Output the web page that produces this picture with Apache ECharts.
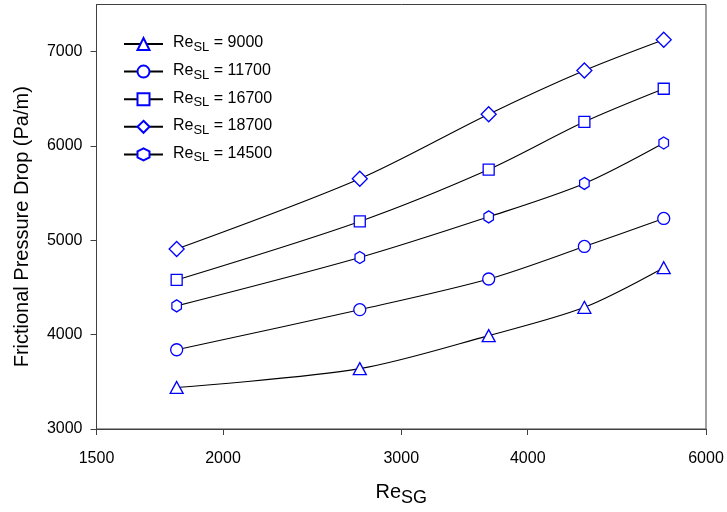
<!DOCTYPE html>
<html>
<head>
<meta charset="utf-8">
<script src="https://cdn.jsdelivr.net/npm/echarts@6/dist/echarts.min.js"></script>
<style>
	html, body { margin: 0; padding: 0; background: #fff; }
	#chart { width: 727px; height: 512px; }
</style>
</head>
<body>
<div id="chart"></div>
<script>
// Re_SG values (x axis is logarithmic)
var reSG = [1800, 2730, 3660, 4550, 5450];
var xTicks = [1500, 2000, 3000, 4000, 6000];
var yTicks = [3000, 4000, 5000, 6000, 7000];

// frictional pressure drop, Pa/m
var re9000 = [3440, 3640, 3990, 4290, 4710];
var re11700 = [3840, 4265, 4590, 4935, 5232];
var re16700 = [4580, 5200, 5750, 6256, 6607];
var re18700 = [4908, 5653, 6337, 6800, 7126];
var re14500 = [4305, 4818, 5249, 5603, 6032];

var seriesNames = ['9000', '11700', '16700', '18700', '14500'];

var FONT = '"Liberation Sans", Arial, sans-serif';
var HEX = 'path://M0,-1 L0.866,-0.5 L0.866,0.5 L0,1 L-0.866,0.5 L-0.866,-0.5 Z';

function lg(v) { return Math.log(v) / Math.LN10; }

function pairs(ys) {
	var out = [];
	for (var i = 0; i < reSG.length; i++) {
		out.push([lg(reSG[i]), ys[i]]);
	}
	return out;
}

function makeSeries(name, ys, symbol, size) {
	return {
		name : name,
		type : 'line',
		smooth : 0.3,
		data : pairs(ys),
		symbol : symbol,
		symbolSize : size,
		symbolKeepAspect : true,
		showAllSymbol : true,
		lineStyle : { color : '#000', width : 1.1 },
		itemStyle : { color : '#fff', borderColor : '#0000ff', borderWidth : 1.3 },
		emphasis : { disabled : true }
	};
}

var myChart = echarts.init(document.getElementById('chart'));
var option = {
	animation : false,
	textStyle : { fontFamily : FONT },
	grid : {
		left : 96.5,
		right : 21,
		top : 4.5,
		bottom : 81,
		show : true,
		borderColor : '#404040',
		borderWidth : 1
	},
	legend : {
		orient : 'vertical',
		left : 123,
		top : 35,
		padding : 0,
		itemWidth : 39,
		itemHeight : 15,
		itemGap : 8.6,
		data : seriesNames,
		formatter : function(n) {
			return '{a|Re}{b|SL}{a| = ' + n + '}';
		},
		textStyle : {
			padding : [0, 0, 0, 5],
			rich : {
				a : { fontFamily : FONT, fontSize : 16, color : '#000', lineHeight : 18, verticalAlign : 'top' },
				b : { fontFamily : FONT, fontSize : 13, color : '#000', lineHeight : 18, verticalAlign : 'top', padding : [6, 0, 0, 0] }
			}
		}
	},
	xAxis : {
		type : 'value',
		min : lg(1500),
		max : lg(6000),
		name : '{a|Re}{b|SG}',
		nameLocation : 'middle',
		nameGap : 53,
		nameTextStyle : {
			rich : {
				a : { fontFamily : FONT, fontSize : 20, color : '#000', lineHeight : 24, verticalAlign : 'top' },
				b : { fontFamily : FONT, fontSize : 18, color : '#000', lineHeight : 24, verticalAlign : 'top', padding : [7, 0, 0, 0] }
			}
		},
		splitLine : { show : false },
		axisLine : { onZero : false, lineStyle : { color : '#404040', width : 1 } },
		axisTick : { show : true, length : 6, customValues : xTicks.map(lg), lineStyle : { color : '#404040' } },
		axisLabel : {
			customValues : xTicks.map(lg),
			margin : 22,
			fontSize : 16,
			color : '#000',
			fontFamily : FONT,
			formatter : function(v) { return String(Math.round(Math.pow(10, v))); }
		}
	},
	yAxis : {
		type : 'value',
		min : 3000,
		max : 7500,
		name : 'Frictional Pressure Drop (Pa/m)',
		nameLocation : 'middle',
		nameRotate : 90,
		nameGap : 64,
		nameTextStyle : { fontFamily : FONT, fontSize : 20, color : '#000', padding : [0, 20, 0, 0] },
		splitLine : { show : false },
		axisLine : { show : true, lineStyle : { color : '#404040', width : 1 } },
		axisTick : { show : true, length : 6, customValues : yTicks, lineStyle : { color : '#404040' } },
		axisLabel : {
			customValues : yTicks,
			margin : 14,
			fontSize : 16,
			color : '#000',
			fontFamily : FONT,
			padding : [6, 0, 0, 0],
			formatter : function(v) { return String(v); }
		}
	},
	series : [
		makeSeries('9000', re9000, 'triangle', [13, 12]),
		makeSeries('11700', re11700, 'circle', 12),
		makeSeries('16700', re16700, 'rect', 11),
		makeSeries('18700', re18700, 'diamond', 15),
		makeSeries('14500', re14500, HEX, [11, 12])
	]
};
myChart.setOption(option);
</script>
</body>
</html>
